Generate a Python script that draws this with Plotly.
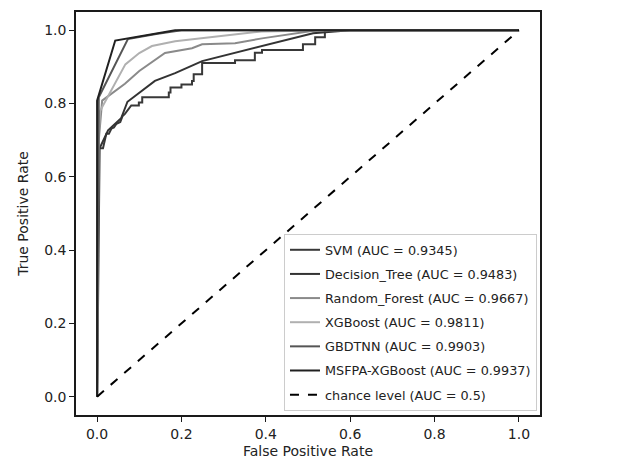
import plotly.graph_objects as go

# ---- data ----
svm_fpr = [0, 0.002, 0.014, 0.018, 0.022, 0.028, 0.034, 0.040, 0.046, 0.055, 0.060, 0.066, 0.072, 0.081,
           0.099, 0.099, 0.107, 0.107, 0.170, 0.170, 0.174, 0.174, 0.200, 0.200, 0.225, 0.225, 0.229,
           0.229, 0.249, 0.249, 0.327, 0.327, 0.374, 0.374, 0.391, 0.391, 0.488, 0.488, 0.517, 0.517,
           0.540, 0.540, 1.0]
svm_tpr = [0, 0.678, 0.678, 0.700, 0.718, 0.718, 0.732, 0.735, 0.745, 0.750, 0.765, 0.772, 0.780, 0.795,
           0.795, 0.803, 0.803, 0.817, 0.817, 0.830, 0.830, 0.844, 0.844, 0.852, 0.852, 0.862, 0.862,
           0.880, 0.880, 0.911, 0.911, 0.918, 0.918, 0.939, 0.939, 0.946, 0.946, 0.962, 0.962, 0.981,
           0.981, 1.0, 1.0]

dt_fpr = [0, 0.006, 0.026, 0.038, 0.057, 0.072, 0.114, 0.137, 0.185, 0.249, 0.512, 0.600, 1.0]
dt_tpr = [0, 0.678, 0.727, 0.740, 0.760, 0.805, 0.843, 0.862, 0.883, 0.916, 0.992, 1.0, 1.0]

rf_fpr = [0, 0.004, 0.012, 0.036, 0.066, 0.100, 0.123, 0.161, 0.225, 0.249, 0.327, 0.391, 0.521, 1.0]
rf_tpr = [0, 0.700, 0.808, 0.829, 0.854, 0.889, 0.908, 0.938, 0.951, 0.962, 0.965, 0.978, 1.0, 1.0]

xgb_fpr = [0, 0.003, 0.007, 0.067, 0.100, 0.130, 0.185, 0.390, 0.550, 1.0]
xgb_tpr = [0, 0.700, 0.780, 0.907, 0.938, 0.957, 0.970, 0.997, 1.0, 1.0]

gbdtnn_fpr = [0, 0.004, 0.073, 0.140, 0.200, 1.0]
gbdtnn_tpr = [0, 0.817, 0.976, 0.990, 1.0, 1.0]

msfpa_fpr = [0, 0.0, 0.043, 0.185, 1.0]
msfpa_tpr = [0, 0.808, 0.972, 1.0, 1.0]

chance_x = [0, 1]
chance_y = [0, 1]

names = ["SVM (AUC = 0.9345)", "Decision_Tree (AUC = 0.9483)", "Random_Forest (AUC = 0.9667)",
         "XGBoost (AUC = 0.9811)", "GBDTNN (AUC = 0.9903)", "MSFPA-XGBoost (AUC = 0.9937)",
         "chance level (AUC = 0.5)"]
colors = ["#383838", "#333333", "#8a8a8a", "#b0b0b0", "#555555", "#202020", "#000000"]

series = [(svm_fpr, svm_tpr), (dt_fpr, dt_tpr), (rf_fpr, rf_tpr), (xgb_fpr, xgb_tpr),
          (gbdtnn_fpr, gbdtnn_tpr), (msfpa_fpr, msfpa_tpr)]

fig = go.Figure()
for i, (xs, ys) in enumerate(series):
    fig.add_trace(go.Scatter(x=xs, y=ys, mode="lines", name=names[i],
                             line=dict(color=colors[i], width=2), legendgroup=str(i)))
fig.add_trace(go.Scatter(x=chance_x, y=chance_y, mode="lines", name=names[6],
                         line=dict(color=colors[6], width=2, dash="dash"), legendgroup="6"))

font = "DejaVu Sans, sans-serif"
axis_common = dict(range=[-0.05, 1.05], tickvals=[0, 0.2, 0.4, 0.6, 0.8, 1.0], tickformat=".1f",
                   showline=True, linecolor="#1a1a1a", linewidth=1.5, mirror=True, ticks="outside",
                   ticklen=5, tickwidth=1.2, tickcolor="#1a1a1a", showgrid=False, zeroline=False,
                   tickfont=dict(family=font, size=14, color="#222"))

fig.update_layout(
    width=619, height=467,
    margin=dict(l=76, r=79, t=10, b=39),
    paper_bgcolor="white", plot_bgcolor="white",
    font=dict(family=font, size=14, color="#222"),
    xaxis=dict(title=dict(text="False Positive Rate", font=dict(family=font, size=14), standoff=6),
               **axis_common),
    yaxis=dict(title=dict(text="True Positive Rate", font=dict(family=font, size=14), standoff=12),
               **axis_common),
    legend=dict(x=0.9935, y=0.01, xanchor="right", yanchor="bottom", bgcolor="rgba(255,255,255,0.9)",
                bordercolor="#cccccc", borderwidth=1, font=dict(family=font, size=12.8, color="#222"),
                traceorder="grouped", tracegroupgap=4.5, itemwidth=30),
    showlegend=True,
)

fig.write_html("out.html", post_script="document.body.style.margin='0';",
               config={"displayModeBar": False})
